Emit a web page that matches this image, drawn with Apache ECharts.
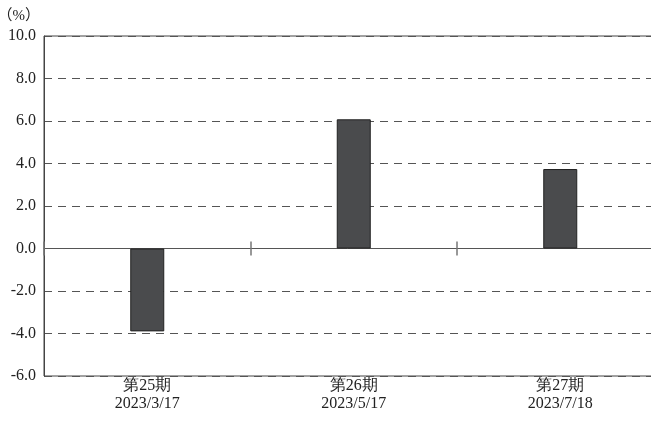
<!DOCTYPE html>
<html>
<head>
<meta charset="utf-8">
<script src="https://cdn.jsdelivr.net/npm/echarts@6/dist/echarts.min.js"></script>
<style>html,body{margin:0;padding:0;background:#fff}#c{width:651px;height:421px}</style>
</head>
<body>
<div id="c"></div>
<script>
const periods = ['第25期', '第26期', '第27期'];
const dates = ['2023/3/17', '2023/5/17', '2023/7/18'];
const values = [-3.9, 6.08, 3.74];
const yMin = -6, yMax = 10, yStep = 2;

const categories = periods.map((p, i) => p + '\n' + dates[i]);
const FONT = 'Liberation Serif';
const gridBox = () => ({left: 44, top: 36, width: 619.5, height: 340, containLabel: false, outerBoundsMode: 'none'});
const hiddenY = (gi) => ({
  type: 'value', min: yMin, max: yMax, interval: yStep, gridIndex: gi,
  axisLine: {show: false}, axisTick: {show: false}, axisLabel: {show: false}, splitLine: {show: false}
});

const chart = echarts.init(document.getElementById('c'), null, {renderer: 'canvas'});
chart.setOption({
  animation: false,
  textStyle: {fontFamily: FONT},
  grid: [
    Object.assign({show: true, borderColor: '#444', borderWidth: 1}, gridBox()),
    Object.assign({show: false}, gridBox()),
    Object.assign({show: false}, gridBox())
  ],
  xAxis: [
    {
      type: 'category', data: categories, position: 'bottom', gridIndex: 0,
      axisLine: {show: false, onZero: false},
      axisTick: {show: false},
      axisLabel: {margin: 1, fontFamily: FONT, fontSize: 16, color: '#222', lineHeight: 18},
      splitLine: {show: false}
    },
    {
      type: 'category', data: categories, position: 'bottom', gridIndex: 1,
      axisLine: {show: true, onZero: true, lineStyle: {color: '#555', width: 1}},
      axisTick: {show: true, length: 7, lineStyle: {color: '#777', width: 1.5}},
      axisLabel: {show: false},
      splitLine: {show: false}
    },
    {
      type: 'category', data: categories, position: 'bottom', gridIndex: 2,
      axisLine: {show: false, onZero: true},
      axisTick: {show: true, inside: true, length: 7, lineStyle: {color: '#777', width: 1.5}},
      axisLabel: {show: false},
      splitLine: {show: false}
    }
  ],
  yAxis: [
    {
      type: 'value', min: yMin, max: yMax, interval: yStep, gridIndex: 0,
      name: '（%）', nameLocation: 'end', nameGap: 12,
      nameTextStyle: {fontFamily: 'Liberation Serif, Noto Sans CJK JP', fontSize: 15, color: '#222', align: 'right', padding: [0, 4, 0, 0]},
      axisLine: {show: true, lineStyle: {color: '#444', width: 1}},
      axisTick: {show: false},
      axisLabel: {margin: 8, fontFamily: FONT, fontSize: 16, color: '#222', formatter: v => v.toFixed(1)},
      splitLine: {show: true, lineStyle: {color: '#555', width: 1.2, type: [8, 6]}}
    },
    hiddenY(1),
    hiddenY(2)
  ],
  series: [{
    type: 'bar', data: values, xAxisIndex: 0, yAxisIndex: 0, barWidth: 34,
    itemStyle: {color: '#4a4b4d', borderColor: '#222', borderWidth: 1}
  }]
});
</script>
</body>
</html>
